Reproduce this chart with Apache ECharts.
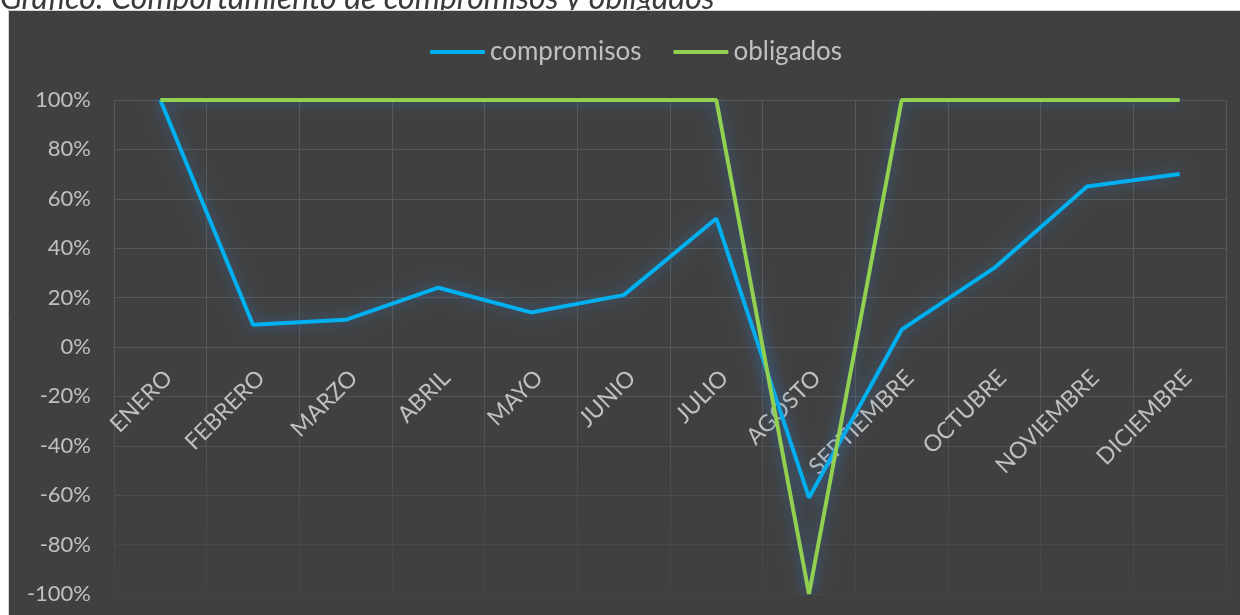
<!DOCTYPE html>
<html>
<head>
<meta charset="utf-8">
<script src="https://cdn.jsdelivr.net/npm/echarts@6/dist/echarts.min.js"></script>
<style>
  html, body { margin: 0; padding: 0; background: #fff; }
  #chart { width: 1240px; height: 615px; }
</style>
</head>
<body>
<div id="chart"></div>
<script>
// datos (porcentaje)
const months = ['ENERO', 'FEBRERO', 'MARZO', 'ABRIL', 'MAYO', 'JUNIO', 'JULIO',
  'AGOSTO', 'SEPTIEMBRE', 'OCTUBRE', 'NOVIEMBRE', 'DICIEMBRE'];
const compromisos = [100, 9, 11, 24, 14, 21, 52, -61, 7, 32, 65, 70];
const obligados = [100, 100, 100, 100, 100, 100, 100, -100, 100, 100, 100, 100];
const yMin = -100, yMax = 100, yStep = 20;

const chartDom = document.getElementById('chart');
const myChart = echarts.init(chartDom);

const font = 'Lato';
const labelColor = '#c0c0c0';
const gridTop = 100, gridBottom = 21, chartH = 615;
// el eje X cruza en 0: desplazar el eje hacia arriba la mitad del alto del grid
const plotH = chartH - gridTop - gridBottom;
const zeroOffset = -plotH * (0 - yMin) / (yMax - yMin);

// lineas de la cuadricula se desvanecen hacia abajo
const gridColor = new echarts.graphic.LinearGradient(0, 380, 0, 600, [
  { offset: 0, color: '#575757' },
  { offset: 1, color: '#444444' }
], true);
const glow = { shadowBlur: 15, shadowColor: 'rgba(45,120,200,0.7)' };

const option = {
  backgroundColor: '#404040',
  animation: false,
  graphic: [
    { type: 'rect', z: 1, shape: { x: 0, y: 0, width: 1240, height: 10 }, style: { fill: '#fff' } },
    { type: 'rect', z: 1, shape: { x: 0, y: 0, width: 8, height: 615 }, style: { fill: '#fff' } },
    { type: 'text', z: 3, x: 0, y: 15,
      style: { text: 'Gráfico: Comportamiento de compromisos y obligados',
        font: 'italic 32px Lato', fill: '#3a3a3a', verticalAlign: 'bottom' } },
    { type: 'polyline', z: 4, shape: { points: [[8.5, 615], [8.5, 10.5], [1240, 10.5]] },
      style: { stroke: '#d4d4d4', lineWidth: 1, fill: null } }
  ],
  legend: {
    top: 34,
    left: 425,
    icon: 'roundRect',
    itemWidth: 55,
    itemHeight: 4,
    itemGap: 32,
    textStyle: { color: labelColor, fontSize: 26, fontFamily: font }
  },
  grid: { left: 114, right: 14, top: gridTop, bottom: gridBottom, outerBoundsMode: 'none', containLabel: false },
  xAxis: {
    type: 'category',
    data: months,
    boundaryGap: true,
    position: 'bottom',
    offset: zeroOffset,
    axisLine: { onZero: false, lineStyle: { color: '#575757' } },
    axisTick: { show: false },
    axisLabel: {
      rotate: 45,
      interval: 0,
      margin: 19,
      verticalAlign: 'top',
      color: labelColor,
      fontSize: 23,
      fontFamily: font
    },
    splitLine: { show: true, lineStyle: { color: gridColor, width: 1 } }
  },
  yAxis: {
    type: 'value',
    min: yMin,
    max: yMax,
    interval: yStep,
    axisLine: { show: false },
    axisTick: { show: false },
    axisLabel: {
      margin: 23,
      color: labelColor,
      fontSize: 22,
      fontFamily: font,
      formatter: v => v + '%'
    },
    splitLine: { lineStyle: { color: gridColor, width: 1 } }
  },
  series: [
    {
      name: 'compromisos',
      type: 'line',
      data: compromisos,
      symbol: 'none',
      color: '#00b0f0',
      lineStyle: Object.assign({ width: 4, color: '#00b0f0' }, glow)
    },
    {
      name: 'obligados',
      type: 'line',
      data: obligados,
      symbol: 'none',
      color: '#92d050',
      lineStyle: Object.assign({ width: 4, color: '#92d050' }, glow)
    }
  ]
};

option && myChart.setOption(option);
</script>
</body>
</html>
